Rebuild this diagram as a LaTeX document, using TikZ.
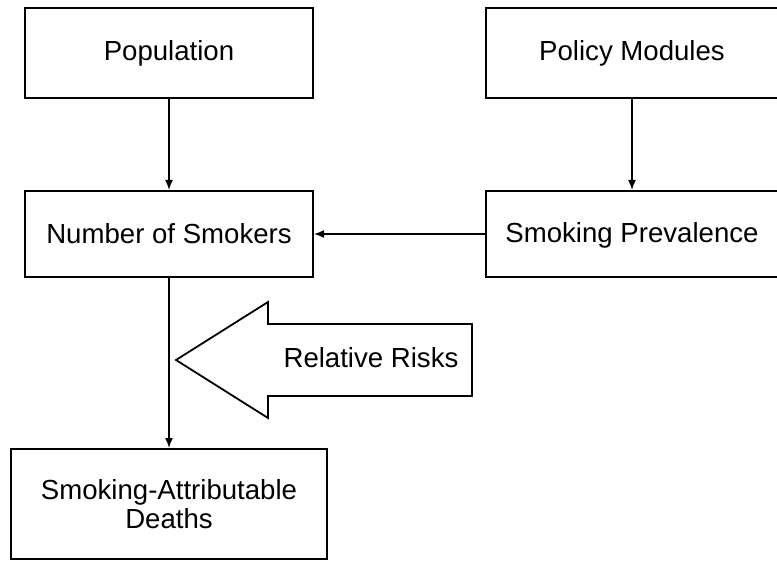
\documentclass[tikz,border=0pt]{standalone}
\usepackage{fontspec}
\setmainfont{Liberation Sans}
\usetikzlibrary{arrows.meta,positioning}

\begin{document}
\begin{tikzpicture}[
    x=1pt,y=-1pt,
    box/.style={draw=black,line width=2pt,inner sep=0pt,align=center,
      font=\fontsize{27.6}{28.5}\selectfont},
    link/.style={-{Latex[length=10pt,width=8pt]},line width=1.5pt},
    bigarrow/.style={draw=black,line width=1.8pt,fill=white},
    labelnode/.style={font=\fontsize{27.6}{28.5}\selectfont}
  ]
    \useasboundingbox (0,0) rectangle (777,561);

    % Kästen
    \node[box,minimum width=288pt,minimum height=90pt] (pop) at (169,53) {Population};
    \node[box,minimum width=292pt,minimum height=90pt] (policy) at (632,53) {Policy Modules};
    \node[box,minimum width=288pt,minimum height=86pt] (smokers) at (169,234) {Number of Smokers};
    \node[box,minimum width=292pt,minimum height=86pt,text depth=0.2em] (prev) at (632,234) {Smoking Prevalence};
    \node[box,minimum width=316pt,minimum height=110pt] (deaths) at (169,504)
      {Smoking-Attributable\\Deaths};

    % Verbindungen
    \draw[link] (pop.south) -- (smokers.north);
    \draw[link] (policy.south) -- (prev.north);
    \draw[link] (prev.west) -- (smokers.east);
    \draw[link] (smokers.south) -- (deaths.north);

    % Blockpfeil
    \draw[bigarrow] (176,360) -- (268,302) -- (268,324) -- (472,324)
      -- (472,396) -- (268,396) -- (268,418) -- cycle;
    \node[labelnode] (rr) at (371,358) {Relative Risks};
\end{tikzpicture}
\end{document}
